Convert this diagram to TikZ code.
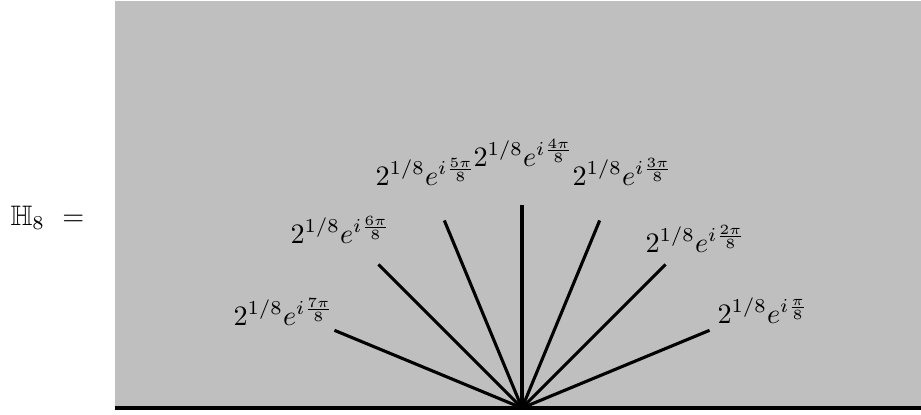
\documentclass[tikz,border=0pt]{standalone}
\usepackage{amssymb}
\usetikzlibrary{calc}
\definecolor{bggray}{RGB}{191,191,191}
\begin{document}
\begin{tikzpicture}[x=0.355pt,y=-0.355pt,
  ray/.style={line width=1.1pt},
  lab/.style={anchor=base west,inner sep=0pt}]
\useasboundingbox (0,0) rectangle (921,414);
\fill[bggray] (115,1) rectangle (921,408);
\coordinate (O) at (522,408);
\coordinate (BL) at (115,408);
\coordinate (BR) at (921,408);
\draw[line width=1.35pt] (BL) -- (BR);
\foreach \k in {1,...,7}{
  \coordinate (E\k) at ($(O)+({-22.5*\k}:203)$);
}
\foreach \k in {1,...,7}{
  \draw[ray] (O) -- (E\k);
}
\node[lab] (L1) at (717,323) {$2^{1/8}e^{i\frac{\pi}{8}}$};
\node[lab] (L2) at (645,252) {$2^{1/8}e^{i\frac{2\pi}{8}}$};
\node[lab] (L3) at (572,185) {$2^{1/8}e^{i\frac{3\pi}{8}}$};
\node[lab] (L4) at (473,166) {$2^{1/8}e^{i\frac{4\pi}{8}}$};
\node[lab] (L5) at (375,185) {$2^{1/8}e^{i\frac{5\pi}{8}}$};
\node[lab] (L6) at (290,243) {$2^{1/8}e^{i\frac{6\pi}{8}}$};
\node[lab] (L7) at (233,325) {$2^{1/8}e^{i\frac{7\pi}{8}}$};
\node[lab] (H) at (10,225) {$\mathbb{H}_8\ =$};
\end{tikzpicture}
\end{document}
